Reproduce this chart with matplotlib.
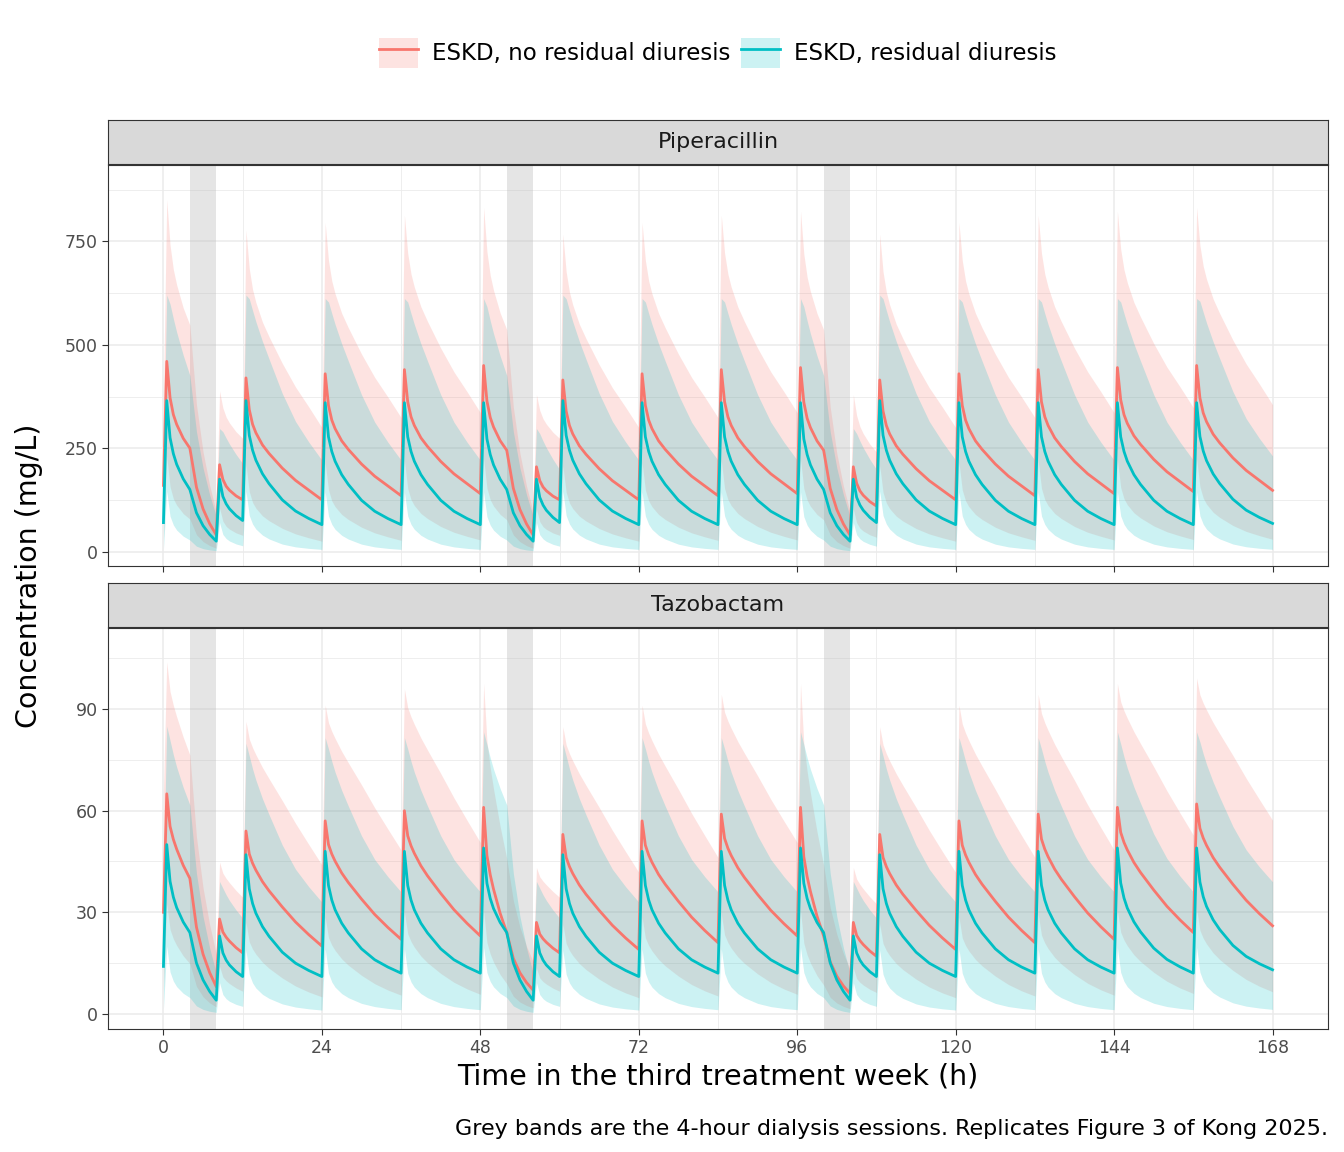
import numpy as np
import matplotlib.pyplot as plt
from matplotlib.patches import Patch
from matplotlib.lines import Line2D

# dosing intervals (h) and dialysis sessions
dose_start = [0, 8, 12, 24, 36, 48, 56, 60, 72, 84, 96, 104, 108, 120, 132, 144, 156]
dose_end = [4, 12, 24, 36, 48, 52, 60, 72, 84, 96, 100, 108, 120, 132, 144, 156, 168]
dialysis = [(4, 8), (52, 56), (100, 104)]

# median concentrations: value at start, peak per dose, value at interval end, value after dialysis
pip_red_start = 160
pip_red_peak = [460, 210, 420, 430, 440, 450, 205, 415, 430, 440, 445, 205, 415, 430, 440, 445, 450]
pip_red_end = [250, 125, 125, 135, 140, 245, 125, 125, 135, 140, 245, 110, 125, 135, 140, 145, 148]
pip_red_dial = [40, 40, 40]
pip_cyan_start = 70
pip_cyan_peak = [365, 175, 365, 360, 360, 360, 175, 365, 360, 360, 360, 175, 365, 360, 360, 360, 360]
pip_cyan_end = [150, 75, 65, 65, 65, 150, 70, 65, 65, 65, 150, 70, 65, 65, 65, 65, 68]
pip_cyan_dial = [25, 25, 25]
taz_red_start = 30
taz_red_peak = [65, 28, 54, 57, 60, 61, 27, 53, 57, 59, 61, 27, 53, 57, 59, 61, 62]
taz_red_end = [40, 18, 20, 22, 23, 24, 18, 19, 21, 23, 23, 17, 19, 21, 22, 24, 26]
taz_red_dial = [8, 7, 6]
taz_cyan_start = 14
taz_cyan_peak = [50, 23, 47, 48, 48, 49, 23, 47, 48, 48, 49, 23, 47, 48, 48, 49, 49]
taz_cyan_end = [24, 11, 11, 12, 12, 24, 11, 11, 12, 12, 24, 11, 11, 12, 12, 12, 13]
taz_cyan_dial = [4, 4, 4]

# decay shape within an interval (fraction between end value and peak)
offsets = [0.5, 1, 1.5, 2, 3, 4, 6, 8, 10, 12]
shape_red = [1, 0.74, 0.62, 0.55, 0.45, 0.38, 0.26, 0.16, 0.08, 0]
shape_taz_red = [1, 0.8, 0.72, 0.66, 0.56, 0.48, 0.34, 0.21, 0.1, 0]
shape_cyan = [1, 0.72, 0.6, 0.52, 0.41, 0.33, 0.2, 0.11, 0.05, 0]
dial_off = [0, 1, 2, 3, 4]
dial_shape = [1, 0.55, 0.3, 0.13, 0]
# 90% band as multiples of the median (at peak, at trough)
band_pip_red = (1.85, 2.4, 0.5, 0.2)
band_pip_cyan = (1.7, 3.4, 0.4, 0.08)
band_taz_red = (1.6, 2.2, 0.5, 0.25)
band_taz_cyan = (1.7, 3.0, 0.4, 0.1)

RED, CYAN = '#F8766D', '#00BFC4'


def build(start, peaks, ends, dials, shape, band):
    t, c, fr = [0.0], [start], [0.0]
    di = 0
    for s, e, pk, en in zip(dose_start, dose_end, peaks, ends):
        dur = e - s
        f_end = np.interp(dur, offsets, shape)
        for o, f in zip(offsets, shape):
            if o > dur:
                break
            g = (f - f_end) / (1 - f_end)
            t.append(s + o); c.append(en + (pk - en) * g); fr.append(f)
        if t[-1] < e:
            t.append(e); c.append(en); fr.append(f_end)
        if di < len(dialysis) and dialysis[di][0] == e:
            d0, d1 = dialysis[di]
            for o, f in zip(dial_off[1:], dial_shape[1:]):
                t.append(d0 + o); c.append(dials[di] + (en - dials[di]) * f); fr.append(f_end * f)
            di += 1
    t, c, fr = map(np.array, (t, c, fr))
    hi = c * (band[1] + (band[0] - band[1]) * fr)
    lo = c * (band[3] + (band[2] - band[3]) * fr)
    return t, c, lo, hi


fig = plt.figure(figsize=(13.44, 11.52), dpi=100)
L, W = 108 / 1344, 1220 / 1344
panels = [
    ('Piperacillin', 566, [0, 250, 500, 750], (-35, 935),
     [(pip_red_start, pip_red_peak, pip_red_end, pip_red_dial, shape_red, band_pip_red, RED),
      (pip_cyan_start, pip_cyan_peak, pip_cyan_end, pip_cyan_dial, shape_cyan, band_pip_cyan, CYAN)]),
    ('Tazobactam', 1029, [0, 30, 60, 90], (-4.5, 114),
     [(taz_red_start, taz_red_peak, taz_red_end, taz_red_dial, shape_taz_red, band_taz_red, RED),
      (taz_cyan_start, taz_cyan_peak, taz_cyan_end, taz_cyan_dial, shape_cyan, band_taz_cyan, CYAN)]),
]
axes = []
for name, bot, yt, ylim, series in panels:
    ax = fig.add_axes([L, 1 - bot / 1152, W, 401 / 1152])
    sax = fig.add_axes([L, 1 - (bot - 402) / 1152, W, 44 / 1152])
    sax.set_facecolor('#D9D9D9')
    sax.set_xticks([]); sax.set_yticks([])
    for sp in sax.spines.values():
        sp.set_color('#333333')
    sax.text(0.5, 0.5, name, ha='center', va='center', fontsize=16, color='#1A1A1A', transform=sax.transAxes)
    for d0, d1 in dialysis:
        ax.axvspan(d0, d1, color='#BEBEBE', alpha=0.4, lw=0, zorder=1)
    curves = [build(st, pk, en, dl, sh, bd) + (col,) for st, pk, en, dl, sh, bd, col in series]
    for t, c, lo, hi, col in curves:
        ax.fill_between(t, lo, hi, color=col, alpha=0.2, lw=0, zorder=2)
    for t, c, lo, hi, col in curves:
        ax.plot(t, c, color=col, lw=2, zorder=3)
    ax.set_xlim(-8.4, 176.4)
    ax.set_ylim(*ylim)
    ax.set_yticks(yt)
    ax.set_yticks([(a + b) / 2 for a, b in zip(yt[:-1], yt[1:])] + [yt[-1] + (yt[1] - yt[0]) / 2], minor=True)
    ax.set_xticks(range(0, 169, 24))
    ax.set_xticks(range(12, 169, 24), minor=True)
    ax.grid(which='major', color='#EBEBEB', lw=1.1)
    ax.grid(which='minor', color='#EBEBEB', lw=0.6)
    ax.set_axisbelow(True)
    ax.tick_params(which='minor', length=0)
    ax.tick_params(which='major', labelsize=12.5, colors='#333333', labelcolor='#4D4D4D', length=4)
    for sp in ax.spines.values():
        sp.set_color('#333333')
    axes.append(ax)
axes[0].tick_params(labelbottom=False)
axes[1].set_xlabel('Time in the third treatment week (h)', fontsize=20.5, labelpad=4)
fig.text(0.011, 0.5, 'Concentration (mg/L)', rotation=90, va='center', fontsize=20.5)
fig.text(0.988, 0.015, 'Grey bands are the 4-hour dialysis sessions. Replicates Figure 3 of Kong 2025.',
         ha='right', fontsize=16)

handles = [(Patch(color=RED, alpha=0.2, lw=0), Line2D([], [], color=RED, lw=2)),
           (Patch(color=CYAN, alpha=0.2, lw=0), Line2D([], [], color=CYAN, lw=2))]
fig.legend(handles, ['ESKD, no residual diuresis', 'ESKD, residual diuresis'], loc='center',
           bbox_to_anchor=(0.534, 0.954), ncol=2, frameon=False, fontsize=16.5,
           handlelength=1.7, handleheight=1.7, columnspacing=0.5, handletextpad=0.6)
fig.savefig('out.png', dpi=100)
